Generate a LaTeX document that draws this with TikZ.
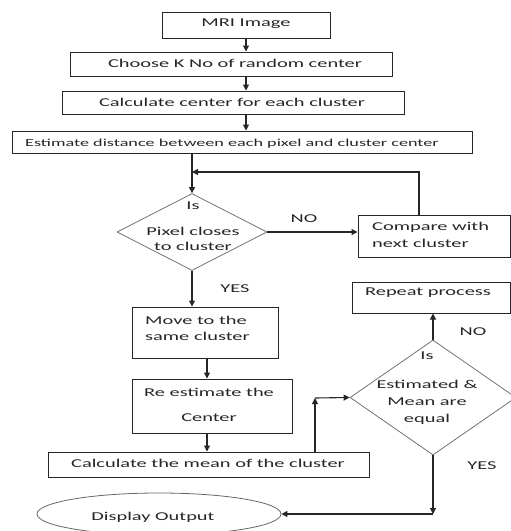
\documentclass[tikz,border=0pt]{standalone}
\usepackage{fontspec}
\setmainfont{Carlito}[FakeStretch=1.7]
\usetikzlibrary{shapes.geometric,arrows.meta}
\begin{document}
\begin{tikzpicture}[x=1pt,y=-1pt,
  box/.style={draw=black!85, line width=1pt, rectangle, inner sep=0pt},
  dia/.style={draw=black!55, line width=0.8pt, diamond, inner sep=0pt},
  ell/.style={draw=black!60, line width=0.8pt, ellipse, inner sep=0pt},
  txt/.style={font=\fontsize{12}{14}\selectfont, inner sep=0pt, text=black!85},
  stxt/.style={font=\fontsize{10.7}{12}\selectfont, inner sep=0pt, text=black!85},
  arr/.style={-{Triangle[length=6pt,width=6pt]}, line width=1.1pt, black!85},
  ln/.style={line width=1.1pt, black!85}]
\useasboundingbox (0,0) rectangle (511,531);
% boxes
\node[box, minimum width=168, minimum height=26] (mri) at (246,25) {};
\node[box, minimum width=322, minimum height=24] (choose) at (231,64) {};
\node[box, minimum width=342, minimum height=23] (calc) at (233,102.5) {};
\node[box, minimum width=460, minimum height=22] (est) at (242,142) {};
\node[dia, minimum width=150, minimum height=77] (d1) at (192,232) {};
\node[box, minimum width=152, minimum height=42] (cmp) at (434,236) {};
\node[box, minimum width=158, minimum height=31] (rep) at (431,297.5) {};
\node[box, minimum width=146, minimum height=51] (move) at (205,332.5) {};
\node[dia, minimum width=166, minimum height=115] (d2) at (433,397.5) {};
\node[box, minimum width=160, minimum height=54] (re) at (212,406) {};
\node[box, minimum width=321, minimum height=25] (mean) at (208.5,464.5) {};
\node[ell, minimum width=244, minimum height=42] (out) at (159,514) {};
% texts
\node[txt] (tmri) at (246,24) {MRI Image};
\node[txt] (tchoose) at (235,63) {Choose K No of random center};
\node[txt] (tcalc) at (232,102) {Calculate center for each cluster};
\node[stxt] (test) at (232,144) {Estimate distance between each pixel and cluster center};
\node[txt] (td1a) at (193,206) {Is};
\node[txt] (td1b) at (193,231) {Pixel closes};
\node[txt] (td1c) at (193,246) {to cluster};
\node[txt] (tno1) at (304,219) {NO};
\node[txt, anchor=west] (tcmpa) at (372,227) {Compare with};
\node[txt, anchor=west] (tcmpb) at (372,243) {next cluster};
\node[txt] (tyes1) at (235,289) {YES};
\node[txt] (trep) at (428,293) {Repeat process};
\node[txt] (tno2) at (473,332) {NO};
\node[txt, anchor=west] (tmovea) at (145,320) {Move to the};
\node[txt, anchor=west] (tmoveb) at (145,336) {same cluster};
\node[txt] (trea) at (209,392) {Re estimate the};
\node[txt] (treb) at (209,418) {Center};
\node[txt] (td2a) at (427,356) {Is};
\node[txt] (td2b) at (427,384) {Estimated \&};
\node[txt] (td2c) at (427,402) {Mean are};
\node[txt] (td2d) at (427,419) {equal};
\node[txt] (tmean) at (208,463) {Calculate the mean of the cluster};
\node[txt] (tyes2) at (482,466) {YES};
\node[txt] (tout) at (153,517) {Display Output};
% connectors
\draw[arr] (mri.south) -- (choose.north -| mri.south);
\draw[arr] (choose.south -| mri.south) -- (calc.north -| mri.south);
\draw[arr] (calc.south -| mri.south) -- (est.north -| mri.south);
\draw[arr] (est.south -| d1.north) -- (d1.north);
\coordinate (loopc) at (d1.north |- 0,172);
\draw[arr] (cmp.north -| 419,0) |- (loopc);
\draw[arr] (d1.east) -- (cmp.west |- d1.east);
\draw[arr] (d1.south) -- (move.north -| d1.south);
\draw[arr] (move.south -| 207,0) -- (re.north -| 207,0);
\draw[arr] (re.south -| 207,0) -- (mean.north -| 207,0);
\coordinate (mc) at (315,398);
\draw[arr] (mean.north -| mc) -- (mc);
\draw[arr] (mc) -- (d2.west);
\draw[arr] (d2.north) -- (rep.south -| d2.north);
\coordinate (oc) at (d2.south |- out.east);
\draw[arr] (d2.south) -- (oc);
\draw[arr] (oc) -- (out.east);
\end{tikzpicture}
\end{document}
